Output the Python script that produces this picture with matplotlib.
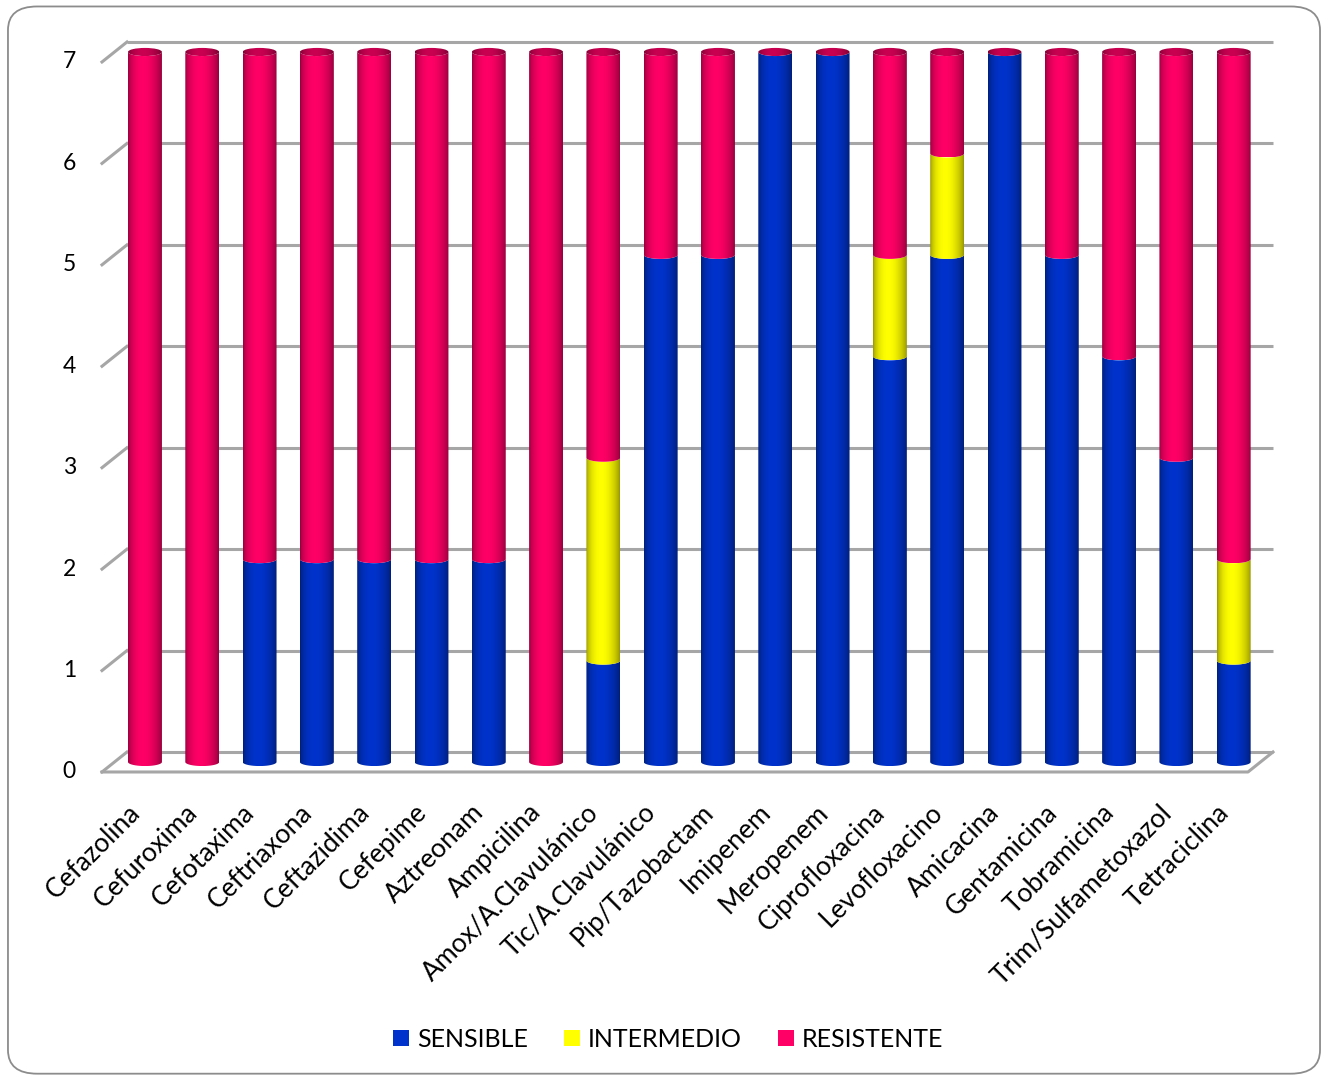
import numpy as np
import matplotlib
matplotlib.use("Agg")
import matplotlib.pyplot as plt
from matplotlib.path import Path
from matplotlib.patches import PathPatch, Ellipse, Patch, FancyBboxPatch
from matplotlib.colors import to_rgb

# antibiotic susceptibility counts per drug
antibioticos = ["Cefazolina", "Cefuroxima", "Cefotaxima", "Ceftriaxona", "Ceftazidima",
                "Cefepime", "Aztreonam", "Ampicilina", "Amox/A.Clavulánico",
                "Tic/A.Clavulánico", "Pip/Tazobactam", "Imipenem", "Meropenem",
                "Ciprofloxacina", "Levofloxacino", "Amicacina", "Gentamicina",
                "Tobramicina", "Trim/Sulfametoxazol", "Tetraciclina"]
sensible = [0, 0, 2, 2, 2, 2, 2, 0, 1, 5, 5, 7, 7, 4, 5, 7, 5, 4, 3, 1]
intermedio = [0, 0, 0, 0, 0, 0, 0, 0, 2, 0, 0, 0, 0, 1, 1, 0, 0, 0, 0, 1]
resistente = [7, 7, 5, 5, 5, 5, 5, 7, 4, 2, 2, 0, 0, 2, 1, 0, 2, 3, 4, 5]
series = ["SENSIBLE", "INTERMEDIO", "RESISTENTE"]
colores = ["#0033CC", "#FFFF00", "#FF0066"]
yticks = [0, 1, 2, 3, 4, 5, 6, 7]

plt.rcParams["font.family"] = ["Lato", "DejaVu Sans"]

fig = plt.figure(figsize=(13.28, 10.78), dpi=100)
ax = fig.add_axes([0, 0, 1, 1])
# one x unit = one category slot, one y unit = one count
ax.set_xlim(-2.280, 20.896)
ax.set_ylim(-3.017, 7.611)
ax.axis("off")

# depth of the 3d box (back wall offset)
dx, dy = 0.436, 0.197
grid_c = "#A6A6A6"
n = len(antibioticos)

# back wall gridlines + left side diagonals
for v in yticks:
    ax.plot([-0.5 + dx, n - 0.5 + dx], [v + dy, v + dy], color=grid_c, lw=2.2, zorder=1,
            solid_capstyle="butt")
    ax.plot([-0.5, -0.5 + dx], [v, v + dy], color=grid_c, lw=2.2, zorder=1)
    ax.text(-1.07, v, str(v), ha="center", va="center", fontsize=16.5, color="#000000")
# floor front edge and right side
ax.plot([-0.5, n - 0.5, n - 0.5 + dx], [0, 0, dy], color=grid_c, lw=2.2, zorder=1)

# cylinder geometry
half_w = 0.296
eb = 0.04


def shade(col, m=64):
    t = np.linspace(0, 1, m)
    f = 0.58 + 0.42 * np.clip(np.sin(np.pi * (t ** 0.85)), 0, 1) ** 0.7
    rgb = np.array(to_rgb(col))
    return np.clip(rgb[None, :] * f[:, None], 0, 1)[None, :, :]


def arc(xc, yc, start, stop, k=40):
    th = np.linspace(start, stop, k)
    return np.column_stack([xc + half_w * np.cos(th), yc + eb * np.sin(th)])


def segment(xc, y0, y1, col):
    # body: front arc at bottom, sides, front arc at top
    bottom = arc(xc, y0, np.pi, 2 * np.pi)
    top = arc(xc, y1, 2 * np.pi, np.pi)
    verts = np.vstack([bottom, top, bottom[:1]])
    codes = [Path.MOVETO] + [Path.LINETO] * (len(verts) - 2) + [Path.CLOSEPOLY]
    patch = PathPatch(Path(verts, codes), facecolor="none", edgecolor="none", zorder=2)
    ax.add_patch(patch)
    im = ax.imshow(shade(col), extent=[xc - half_w, xc + half_w, y0 - eb, y1],
                   aspect="auto", interpolation="bilinear", zorder=2)
    im.set_clip_path(patch)


for i in range(n):
    xc = i + 0.25
    yb = dy / 2
    base = 0
    for vals, col in zip([sensible, intermedio, resistente], colores):
        v = vals[i]
        if v > 0:
            segment(xc, yb + base, yb + base + v, col)
        base += v
    # top cap
    cap = Ellipse((xc, yb + base), 2 * half_w, 2 * eb, zorder=3, edgecolor="none")
    ax.add_patch(cap)
    cim = ax.imshow(shade("#E0005A") * 0.9, extent=[xc - half_w, xc + half_w, yb + base - eb, yb + base + eb],
                    aspect="auto", interpolation="bilinear", zorder=3)
    cim.set_clip_path(cap)
    cap.set_visible(False)

ax.set_xlim(-2.280, 20.896)
ax.set_ylim(-3.017, 7.611)

# category labels
for i, name in enumerate(antibioticos):
    ax.text(i + 0.1, -0.36, name, rotation=45, rotation_mode="anchor",
            ha="right", va="center", fontsize=19, color="#000000")

handles = [Patch(facecolor=c, edgecolor="none", label=s) for s, c in zip(series, colores)]
fig.legend(handles=handles, loc="center", bbox_to_anchor=(0.503, 0.036), ncol=3,
           frameon=False, fontsize=18, handlelength=0.65, handleheight=0.65,
           handletextpad=0.3, columnspacing=1.45)

# rounded chart border
fig.patches.append(FancyBboxPatch((0.006, 0.004), 0.988, 0.990,
                                  boxstyle="round,pad=0,rounding_size=0.022",
                                  transform=fig.transFigure, facecolor="none",
                                  edgecolor="#8C8C8C", lw=1.3))

fig.savefig("out.png", dpi=100, facecolor="white")
